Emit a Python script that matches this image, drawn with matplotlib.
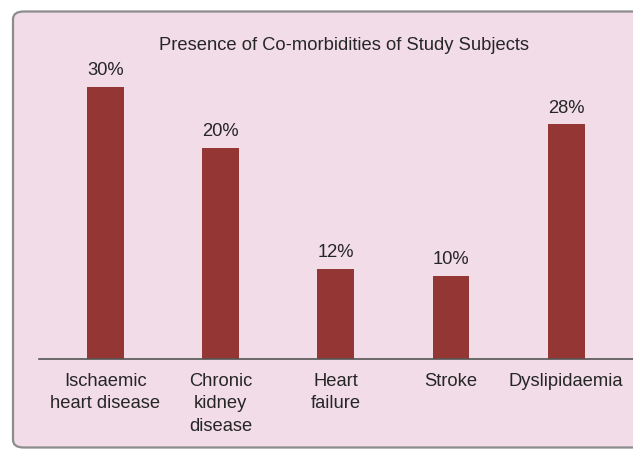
import matplotlib
matplotlib.use("Agg")
import matplotlib.pyplot as plt
from matplotlib.patches import FancyBboxPatch

# ── data ──────────────────────────────────────────────────────────────────────
categories = ["Ischaemic\nheart disease", "Chronic\nkidney\ndisease",
              "Heart\nfailure", "Stroke", "Dyslipidaemia"]
pct_labels = [30, 20, 12, 10, 28]
# bar lengths as drawn in the source (percent scale, 30% bar = 30)
bar_heights = [30.0, 23.3, 10.0, 9.2, 25.9]

BG = "#F2DCE8"
BAR = "#943634"
TXT = "#262626"
FS = 13.2

plt.rcParams["font.family"] = ["Liberation Sans", "DejaVu Sans"]

fig = plt.figure(figsize=(6.33, 4.49), dpi=100)
fig.patch.set_facecolor("white")

# rounded panel, cut off at the right edge
panel = FancyBboxPatch((13 / 633, 1.5 / 449), 1.2, 436 / 449,
                       boxstyle="round,pad=0,rounding_size=0.017",
                       transform=fig.transFigure, facecolor=BG,
                       edgecolor="#8c8c8c", linewidth=1.6, zorder=-1)
fig.patches.append(panel)

ax = fig.add_axes([39 / 633, (449 - 359.3) / 449, 1 - 39 / 633, (359.3 - 20) / 449])
ax.set_facecolor("none")
ax.set_zorder(1)

x = range(len(categories))
ax.bar(x, bar_heights, width=0.32, color=BAR, zorder=2)
for xi, h, p in zip(x, bar_heights, pct_labels):
    ax.annotate(f"{p}%", (xi, h), xytext=(0, 5.5), textcoords="offset points",
                ha="center", va="bottom", fontsize=FS, color=TXT)

ax.set_xlim(-0.577, 4.58)
ax.set_ylim(0, 37.4)
ax.set_yticks([])
ax.set_xticks(list(x))
ax.set_xticklabels(categories, fontsize=FS, color=TXT, linespacing=1.4)
ax.tick_params(axis="x", length=0, pad=10)
for side in ("top", "right", "left"):
    ax.spines[side].set_visible(False)
ax.spines["bottom"].set_color("#555555")
ax.spines["bottom"].set_linewidth(1.2)

fig.text(344 / 633, 1 - 45 / 449, "Presence of Co-morbidities of Study Subjects",
         ha="center", va="center", fontsize=FS, color=TXT)

fig.savefig("out.png", dpi=100)
